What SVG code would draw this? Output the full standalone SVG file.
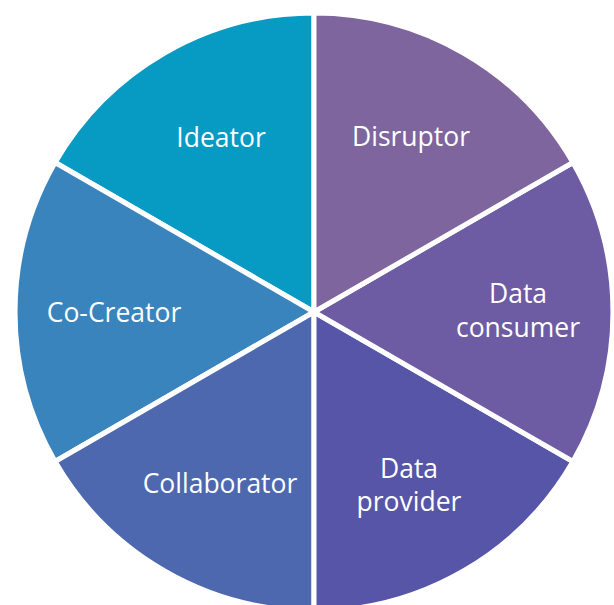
<svg xmlns="http://www.w3.org/2000/svg" width="614" height="605" viewBox="0 0 614 605">
<style>
.sl{stroke:#ffffff;stroke-width:5;stroke-linejoin:round}
.t{font-family:"Open Sans","Liberation Sans",sans-serif;font-size:26.5px;fill:#ffffff;text-anchor:middle}
</style>
<rect width="614" height="605" fill="#ffffff"/>
<g id="ideator">
<path class="sl" fill="#079AC3" d="M314,312 L314,13 A299,299 0 0 0 55.1,162.5 Z"/>
<text class="t" x="221" y="147">Ideator</text>
</g>
<g id="co-creator">
<path class="sl" fill="#3A84BD" d="M314,312 L55.1,162.5 A299,299 0 0 0 55.1,461.5 Z"/>
<text class="t" x="114" y="322">Co-Creator</text>
</g>
<g id="collaborator">
<path class="sl" fill="#4D68AF" d="M314,312 L55.1,461.5 A299,299 0 0 0 314,611 Z"/>
<text class="t" x="220" y="493">Collaborator</text>
</g>
<g id="data-provider">
<path class="sl" fill="#5655A7" d="M314,312 L314,611 A299,299 0 0 0 572.9,461.5 Z"/>
<text class="t" x="409" y="478">Data</text>
<text class="t" x="409" y="511">provider</text>
</g>
<g id="data-consumer">
<path class="sl" fill="#6D5CA3" d="M314,312 L572.9,461.5 A299,299 0 0 0 572.9,162.5 Z"/>
<text class="t" x="518" y="303">Data</text>
<text class="t" x="518" y="337">consumer</text>
</g>
<g id="disruptor">
<path class="sl" fill="#7E659E" d="M314,312 L572.9,162.5 A299,299 0 0 0 314,13 Z"/>
<text class="t" x="411" y="146">Disruptor</text>
</g>
<g id="connectors"></g>
</svg>
